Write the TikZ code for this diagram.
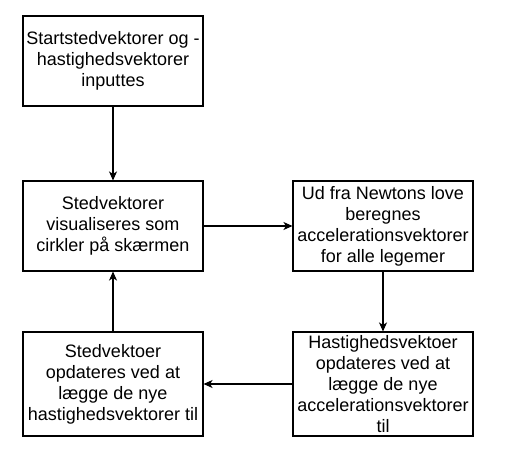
\documentclass[tikz,border=0pt]{standalone}
\usepackage{fontspec}
\setmainfont{Liberation Sans}
\usetikzlibrary{arrows.meta}

\begin{document}
\begin{tikzpicture}[x=1pt, y=1pt,
        flowbox/.style={draw, line width=1.1pt, align=center, inner sep=0pt,
            minimum width=180pt, font=\fontsize{18}{21}\selectfont},
        flowarrow/.style={line width=1.1pt, -{Stealth[length=9pt, width=8pt, inset=2.5pt]}}]
        % Fix the size of the picture
        \useasboundingbox (0,0) rectangle (511,466);

        % Define the boxes
        \node[flowbox, minimum height=90pt] (start) at (113,405)
            {Startstedvektorer og -\\hastighedsvektorer\\inputtes};
        \node[flowbox, minimum height=90pt] (visual) at (113,240)
            {Stedvektorer\\visualiseres som\\cirkler på skærmen};
        \node[flowbox, minimum height=90pt] (accel) at (383,240)
            {Ud fra Newtons love\\beregnes\\accelerationsvektorer\\for alle legemer};
        \node[flowbox, minimum height=104pt] (velupd) at (383,82)
            {Hastighedsvektoer\\opdateres ved at\\lægge de nye\\accelerationsvektorer\\til};
        \node[flowbox, minimum height=104pt] (posupd) at (113,82)
            {Stedvektoer\\opdateres ved at\\lægge de nye\\hastighedsvektorer til};

        % Connect the steps
        \draw[flowarrow] (start) -- (visual);
        \draw[flowarrow] (visual) -- (accel);
        \draw[flowarrow] (accel) -- (velupd);
        \draw[flowarrow] (velupd) -- (posupd);
        \draw[flowarrow] (posupd) -- (visual);

    \end{tikzpicture}
\end{document}
